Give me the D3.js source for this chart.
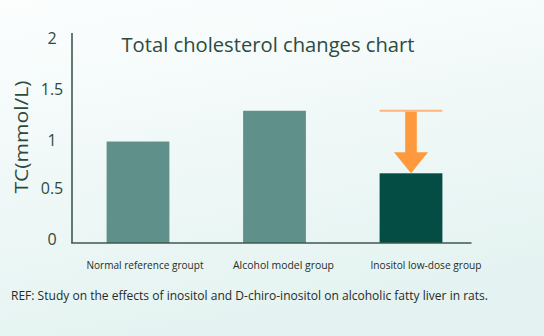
<!DOCTYPE html>
<html><head><meta charset="utf-8">
<script src="https://cdn.jsdelivr.net/npm/d3@7"></script>
<style>html,body{margin:0;padding:0;overflow:hidden;}svg{display:block;}</style>
</head><body>
<script>
const categories = ["Normal reference groupt", "Alcohol model group", "Inositol low-dose group"];
const values = [0.99, 1.29, 0.68];
const yTicks = [0, 0.5, 1, 1.5, 2];
const tickLabels = ["0", "0.5", "1", "1.5", "2"];
const arrowFrom = 1.29;   // alcohol model level
const arrowTo = 0.68;     // inositol level
const title = "Total cholesterol changes chart";
const yTitle = "TC(mmol/L)";
const note = "REF: Study on the effects of inositol and D-chiro-inositol on alcoholic fatty liver in rats.";

const W = 544, H = 336;
const svg = d3.select("body").append("svg").attr("width", W).attr("height", H);
const defs = svg.append("defs");
const g = defs.append("linearGradient").attr("id","bg").attr("x1","0").attr("y1","0").attr("x2","0.3").attr("y2","1");
g.append("stop").attr("offset","0").attr("stop-color","#fcfefe");
g.append("stop").attr("offset","1").attr("stop-color","#e4f3f1");
svg.append("rect").attr("width",W).attr("height",H).attr("fill","url(#bg)");

const y = d3.scaleLinear().domain([0,2]).range([243, 38]);
const x = d3.scaleBand().domain(categories).range([69.75, 479.25]).paddingInner(0.54).paddingOuter(0.27);

const textCol = "#2d4a3f";
const fontMain = "'Open Sans', 'Noto Sans', sans-serif";

// bars
svg.selectAll("rect.bar").data(values).enter().append("rect")
  .attr("class","bar")
  .attr("x",(d,i)=>x(categories[i]))
  .attr("width",x.bandwidth())
  .attr("y",d=>y(d))
  .attr("height",d=>y(0)-y(d))
  .attr("fill",(d,i)=> i===2 ? "#034d44" : "#5f918a");

// axes
svg.append("line").attr("x1",72).attr("x2",72).attr("y1",33).attr("y2",y(0)).attr("stroke","#3c5a50").attr("stroke-width",1.6);
svg.append("line").attr("x1",71.2).attr("x2",471.5).attr("y1",y(0)).attr("y2",y(0)).attr("stroke","#3c5a50").attr("stroke-width",1.6);

// y tick labels
const yAxis = d3.axisLeft(y).tickValues(yTicks).tickFormat((d,i)=>tickLabels[i]).tickSize(0);
const ya = svg.append("g").attr("transform","translate(52,0)").call(yAxis);
ya.select(".domain").remove();
ya.selectAll("text").attr("text-anchor","middle").attr("x",0).attr("dy","0.32em")
  .attr("font-family",fontMain).attr("font-size",16).attr("fill",textCol)
  .attr("transform",(d)=> d===0 ? "translate(0,-4)" : d===0.5 ? "translate(0,-3)" : "");

// x labels
const labelOffsets = [7, 9, 15];
svg.selectAll("text.xl").data(categories).enter().append("text")
  .attr("class","xl")
  .attr("x",(d,i)=>x(d)+x.bandwidth()/2+labelOffsets[i])
  .attr("y",269)
  .attr("text-anchor","middle")
  .attr("font-family",fontMain).attr("font-size",11).attr("fill","#1f2d28")
  .attr("textLength",(d,i)=>[117,101,111][i]).attr("lengthAdjust","spacingAndGlyphs")
  .text(d=>d);

// arrow
const cx = x(categories[2]) + x.bandwidth()/2;
const bx0 = x(categories[2]);
svg.append("line").attr("x1",bx0).attr("x2",bx0+x.bandwidth()).attr("y1",y(arrowFrom)).attr("y2",y(arrowFrom))
  .attr("stroke","#ffb57c").attr("stroke-width",2);
const yf = y(arrowFrom)+1, yt = y(arrowTo), headH = 21;
const sw = 5.8, hw = 17;
svg.append("path")
  .attr("d", `M${cx-sw},${yf} L${cx+sw},${yf} L${cx+sw},${yt-headH} L${cx+hw},${yt-headH} L${cx},${yt} L${cx-hw},${yt-headH} L${cx-sw},${yt-headH} Z`)
  .attr("fill","#fe9a3d");

// title
svg.append("text").attr("x",268).attr("y",52).attr("text-anchor","middle")
  .attr("font-family",fontMain).attr("font-size",20).attr("fill",textCol)
  .attr("textLength",293).attr("lengthAdjust","spacingAndGlyphs").text(title);

// y title
svg.append("text").attr("transform","translate(28,137) rotate(-90)").attr("text-anchor","middle")
  .attr("font-family",fontMain).attr("font-size",19).attr("fill",textCol)
  .attr("textLength",113).attr("lengthAdjust","spacingAndGlyphs").text(yTitle);

// note
svg.append("text").attr("x",11).attr("y",299.5)
  .attr("font-family",fontMain).attr("font-size",12.5).attr("fill","#1f2d28")
  .attr("textLength",477).attr("lengthAdjust","spacingAndGlyphs").text(note);
</script>
</body></html>
